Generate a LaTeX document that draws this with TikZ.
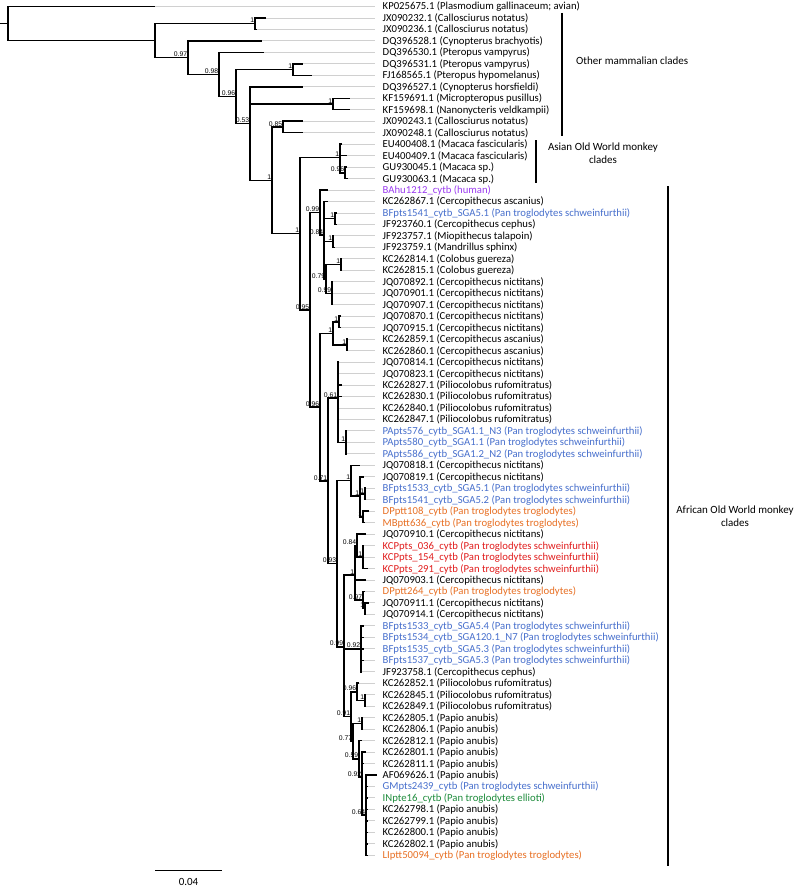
\documentclass[tikz,border=0pt]{standalone}
\usepackage{fontspec}
\setmainfont{Carlito}
\newfontfamily\suppfont{Liberation Sans}
\usetikzlibrary{calc}
\definecolor{cpurple}{RGB}{155,60,240}
\definecolor{cblue}{RGB}{72,112,205}
\definecolor{corange}{RGB}{232,112,36}
\definecolor{cred}{RGB}{225,30,30}
\definecolor{cgreen}{RGB}{30,140,60}
\definecolor{lgrey}{RGB}{208,208,208}
\tikzset{
 br/.style={line width=1.5pt, black},
 leafline/.style={line width=0.9pt, draw=lgrey},
 lab/.style={anchor=west, inner xsep=7.5pt, inner ysep=0pt, text height=7.5pt, text depth=0.5pt, font=\fontsize{10.7}{12}\selectfont},
 suplab/.style={anchor=south east, inner sep=0.6pt, font=\suppfont\fontsize{6.8}{7.5}\selectfont},
 clade/.style={line width=1.6pt, black},
 cladetext/.style={font=\fontsize{11}{13}\selectfont, align=center, inner sep=0pt}
}
\newcommand\myleaf[4]{%
 \coordinate (L#1) at (#2,{6.5+11.47*#1});
 \node[lab,text=#3] (T#1) at (375,{6.5+11.47*#1}) {#4};
 \draw[leafline] (L#1) -- (T#1.west);
}
\newcommand\ndtwo[4]{\path let \p1=(#3),\p2=(#4) in coordinate (#1) at (#2pt,{(\y1+\y2)/2});}
\newcommand\ndthree[5]{\path let \p1=(#3),\p2=(#4),\p3=(#5) in coordinate (#1) at (#2pt,{(\y1+\y2+\y3)/3});}
\newcommand\ndfour[6]{\path let \p1=(#3),\p2=(#4),\p3=(#5),\p4=(#6) in coordinate (#1) at (#2pt,{(\y1+\y2+\y3+\y4)/4});}
\newcommand\edges[2]{\foreach \c in {#2} {\draw[br] (#1) |- (\c);}}
\newcommand\slab[2]{\node[suplab] (s#1) at (#1) {#2};}
\begin{document}
\begin{tikzpicture}[x=1pt,y=-1pt]
\fill[white] (0,0) rectangle (800,888);
\useasboundingbox (0,0) rectangle (800,888);
% leaves
\myleaf{0}{155}{black}{KP025675.1 (Plasmodium gallinaceum; avian)}
\myleaf{1}{266}{black}{JX090232.1 (Callosciurus notatus)}
\myleaf{2}{257}{black}{JX090236.1 (Callosciurus notatus)}
\myleaf{3}{262}{black}{DQ396528.1 (Cynopterus brachyotis)}
\myleaf{4}{264}{black}{DQ396530.1 (Pteropus vampyrus)}
\myleaf{5}{303}{black}{DQ396531.1 (Pteropus vampyrus)}
\myleaf{6}{312}{black}{FJ168565.1 (Pteropus hypomelanus)}
\myleaf{7}{303}{black}{DQ396527.1 (Cynopterus horsfieldi)}
\myleaf{8}{350}{black}{KF159691.1 (Micropteropus pusillus)}
\myleaf{9}{350}{black}{KF159698.1 (Nanonycteris veldkampii)}
\myleaf{10}{303}{black}{JX090243.1 (Callosciurus notatus)}
\myleaf{11}{303}{black}{JX090248.1 (Callosciurus notatus)}
\myleaf{12}{342}{black}{EU400408.1 (Macaca fascicularis)}
\myleaf{13}{347}{black}{EU400409.1 (Macaca fascicularis)}
\myleaf{14}{347}{black}{GU930045.1 (Macaca sp.)}
\myleaf{15}{348}{black}{GU930063.1 (Macaca sp.)}
\myleaf{16}{328}{cpurple}{BAhu1212\_cytb (human)}
\myleaf{17}{328}{black}{KC262867.1 (Cercopithecus ascanius)}
\myleaf{18}{337}{cblue}{BFpts1541\_cytb\_SGA5.1 (Pan troglodytes schweinfurthii)}
\myleaf{19}{337}{black}{JF923760.1 (Cercopithecus cephus)}
\myleaf{20}{334}{black}{JF923757.1 (Miopithecus talapoin)}
\myleaf{21}{335}{black}{JF923759.1 (Mandrillus sphinx)}
\myleaf{22}{342}{black}{KC262814.1 (Colobus guereza)}
\myleaf{23}{342}{black}{KC262815.1 (Colobus guereza)}
\myleaf{24}{333}{black}{JQ070892.1 (Cercopithecus nictitans)}
\myleaf{25}{333}{black}{JQ070901.1 (Cercopithecus nictitans)}
\myleaf{26}{333}{black}{JQ070907.1 (Cercopithecus nictitans)}
\myleaf{27}{341}{black}{JQ070870.1 (Cercopithecus nictitans)}
\myleaf{28}{341}{black}{JQ070915.1 (Cercopithecus nictitans)}
\myleaf{29}{348}{black}{KC262859.1 (Cercopithecus ascanius)}
\myleaf{30}{348}{black}{KC262860.1 (Cercopithecus ascanius)}
\myleaf{31}{339}{black}{JQ070814.1 (Cercopithecus nictitans)}
\myleaf{32}{339}{black}{JQ070823.1 (Cercopithecus nictitans)}
\myleaf{33}{342}{black}{KC262827.1 (Piliocolobus rufomitratus)}
\myleaf{34}{342}{black}{KC262830.1 (Piliocolobus rufomitratus)}
\myleaf{35}{339}{black}{KC262840.1 (Piliocolobus rufomitratus)}
\myleaf{36}{339}{black}{KC262847.1 (Piliocolobus rufomitratus)}
\myleaf{37}{347}{cblue}{PApts576\_cytb\_SGA1.1\_N3 (Pan troglodytes schweinfurthii)}
\myleaf{38}{347}{cblue}{PApts580\_cytb\_SGA1.1 (Pan troglodytes schweinfurthii)}
\myleaf{39}{347}{cblue}{PApts586\_cytb\_SGA1.2\_N2 (Pan troglodytes schweinfurthii)}
\myleaf{40}{360}{black}{JQ070818.1 (Cercopithecus nictitans)}
\myleaf{41}{364}{black}{JQ070819.1 (Cercopithecus nictitans)}
\myleaf{42}{366}{cblue}{BFpts1533\_cytb\_SGA5.1 (Pan troglodytes schweinfurthii)}
\myleaf{43}{366}{cblue}{BFpts1541\_cytb\_SGA5.2 (Pan troglodytes schweinfurthii)}
\myleaf{44}{369}{corange}{DPptt108\_cytb (Pan troglodytes troglodytes)}
\myleaf{45}{365}{corange}{MBptt636\_cytb (Pan troglodytes troglodytes)}
\myleaf{46}{366}{black}{JQ070910.1 (Cercopithecus nictitans)}
\myleaf{47}{364}{cred}{KCPpts\_036\_cytb (Pan troglodytes schweinfurthii)}
\myleaf{48}{364}{cred}{KCPpts\_154\_cytb (Pan troglodytes schweinfurthii)}
\myleaf{49}{368}{cred}{KCPpts\_291\_cytb (Pan troglodytes schweinfurthii)}
\myleaf{50}{366}{black}{JQ070903.1 (Cercopithecus nictitans)}
\myleaf{51}{365}{corange}{DPptt264\_cytb (Pan troglodytes troglodytes)}
\myleaf{52}{369}{black}{JQ070911.1 (Cercopithecus nictitans)}
\myleaf{53}{366}{black}{JQ070914.1 (Cercopithecus nictitans)}
\myleaf{54}{364}{cblue}{BFpts1533\_cytb\_SGA5.4 (Pan troglodytes schweinfurthii)}
\myleaf{55}{364}{cblue}{BFpts1534\_cytb\_SGA120.1\_N7 (Pan troglodytes schweinfurthii)}
\myleaf{56}{364}{cblue}{BFpts1535\_cytb\_SGA5.3 (Pan troglodytes schweinfurthii)}
\myleaf{57}{364}{cblue}{BFpts1537\_cytb\_SGA5.3 (Pan troglodytes schweinfurthii)}
\myleaf{58}{362}{black}{JF923758.1 (Cercopithecus cephus)}
\myleaf{59}{359}{black}{KC262852.1 (Piliocolobus rufomitratus)}
\myleaf{60}{366}{black}{KC262845.1 (Piliocolobus rufomitratus)}
\myleaf{61}{366}{black}{KC262849.1 (Piliocolobus rufomitratus)}
\myleaf{62}{363}{black}{KC262805.1 (Papio anubis)}
\myleaf{63}{363}{black}{KC262806.1 (Papio anubis)}
\myleaf{64}{362}{black}{KC262812.1 (Papio anubis)}
\myleaf{65}{366}{black}{KC262801.1 (Papio anubis)}
\myleaf{66}{364}{black}{KC262811.1 (Papio anubis)}
\myleaf{67}{377}{black}{AF069626.1 (Papio anubis)}
\myleaf{68}{368}{cblue}{GMpts2439\_cytb (Pan troglodytes schweinfurthii)}
\myleaf{69}{368}{cgreen}{INpte16\_cytb (Pan troglodytes ellioti)}
\myleaf{70}{368}{black}{KC262798.1 (Papio anubis)}
\myleaf{71}{368}{black}{KC262799.1 (Papio anubis)}
\myleaf{72}{368}{black}{KC262800.1 (Papio anubis)}
\myleaf{73}{368}{black}{KC262802.1 (Papio anubis)}
\myleaf{74}{368}{corange}{LIptt50094\_cytb (Pan troglodytes troglodytes)}
% internal nodes
\ndtwo{nJXa}{255}{L1}{L2}
\ndtwo{nE}{293}{L5}{L6}
\ndtwo{nG}{333}{L8}{L9}
\ndtwo{nI}{283}{L10}{L11}
\ndtwo{nKG}{345}{L14}{L15}
\ndthree{nK}{340}{L12}{L13}{nKG}
\ndtwo{nP}{335}{L18}{L19}
\ndtwo{nQ}{333}{L20}{L21}
\ndtwo{nSa}{341}{L22}{L23}
\ndtwo{nTa}{332}{L24}{L26}
\ndtwo{nR}{326}{nSa}{nTa}
\ndfour{nO}{324}{L17}{nP}{nQ}{nR}
\ndtwo{nN}{320}{L16}{nO}
\ndtwo{nT}{339}{L27}{L28}
\ndtwo{nU}{347}{L29}{L30}
\ndtwo{nS}{333}{nT}{nU}
\ndtwo{nX}{346}{L37}{L39}
\path let \p1=(L31),\p2=(L32),\p3=(L33),\p4=(L34),\p5=(L35),\p6=(L36),\p7=(nX) in coordinate (nW) at (338pt,{(\y1+\y2+\y3+\y4+\y5+\y6+\y7)/7});
\ndtwo{nBP}{365}{L42}{L43}
\ndtwo{nDM}{363}{L44}{L45}
\ndthree{nAA}{360}{L41}{nBP}{nDM}
\ndtwo{nZ}{351}{L40}{nAA}
\ndtwo{nKCP}{363}{L47}{L49}
\ndtwo{nAC}{357}{L46}{nKCP}
\ndtwo{nJP}{365}{L52}{L53}
\ndtwo{nAF}{363}{L51}{nJP}
\ndthree{nAD}{355}{nAC}{L50}{nAF}
\ndtwo{nAG}{361}{L54}{L58}
\ndtwo{nPP}{365}{L60}{L61}
\ndtwo{nAI}{357}{L59}{nPP}
\ndtwo{nQQ}{362}{L62}{L63}
\ndtwo{nAM}{366}{L67}{L74}
\ndthree{nAL}{362}{L65}{L66}{nAM}
\ndtwo{nAK}{359}{L64}{nAL}
\ndtwo{nAJ}{353}{nQQ}{nAK}
\ndtwo{nAE}{351}{nAI}{nAJ}
\ndthree{nAB}{344}{nAD}{nAG}{nAE}
\ndtwo{nY}{337}{nZ}{nAB}
\ndtwo{nV}{328}{nW}{nY}
\ndtwo{nM}{320}{nS}{nV}
\ndtwo{nL}{310}{nN}{nM}
\ndtwo{nJ}{300}{nK}{nL}
\ndtwo{nH}{272}{nI}{nJ}
\ndthree{nF}{250}{L7}{nG}{nH}
\ndtwo{nD}{236}{nE}{nF}
\ndtwo{nC}{219}{L4}{nD}
\ndtwo{nB}{188}{L3}{nC}
\ndtwo{nA}{155}{nJXa}{nB}
\ndtwo{nR0}{8}{L0}{nA}
\path let \p1=(nR0) in coordinate (nR0s) at (0pt,\y1);
% branches
\draw[br] (nR0s) -- (nR0);
\edges{nR0}{L0,nA}
\edges{nA}{nJXa,nB}
\edges{nJXa}{L1,L2}
\edges{nB}{L3,nC}
\edges{nC}{L4,nD}
\edges{nD}{nE,nF}
\edges{nE}{L5,L6}
\edges{nF}{L7,nG,nH}
\edges{nG}{L8,L9}
\edges{nH}{nI,nJ}
\edges{nI}{L10,L11}
\edges{nJ}{nK,nL}
\edges{nK}{L12,L13,nKG}
\edges{nKG}{L14,L15}
\edges{nL}{nN,nM}
\edges{nN}{L16,nO}
\edges{nO}{L17,nP,nQ,nR}
\edges{nP}{L18,L19}
\edges{nQ}{L20,L21}
\edges{nR}{nSa,nTa}
\edges{nSa}{L22,L23}
\edges{nTa}{L24,L25,L26}
\edges{nM}{nS,nV}
\edges{nS}{nT,nU}
\edges{nT}{L27,L28}
\edges{nU}{L29,L30}
\edges{nV}{nW,nY}
\edges{nW}{L31,L32,L33,L34,L35,L36,nX}
\edges{nX}{L37,L38,L39}
\edges{nY}{nZ,nAB}
\edges{nZ}{L40,nAA}
\edges{nAA}{L41,nBP,nDM}
\edges{nBP}{L42,L43}
\edges{nDM}{L44,L45}
\edges{nAB}{nAD,nAG,nAE}
\edges{nAD}{nAC,L50,nAF}
\edges{nAC}{L46,nKCP}
\edges{nKCP}{L47,L48,L49}
\edges{nAF}{L51,nJP}
\edges{nJP}{L52,L53}
\edges{nAG}{L54,L55,L56,L57,L58}
\edges{nAE}{nAI,nAJ}
\edges{nAI}{L59,nPP}
\edges{nPP}{L60,L61}
\edges{nAJ}{nQQ,nAK}
\edges{nQQ}{L62,L63}
\edges{nAK}{L64,nAL}
\edges{nAL}{L65,L66,nAM}
\edges{nAM}{L67,L68,L69,L70,L71,L72,L73,L74}
% support values
\slab{nJXa}{1}
\slab{nB}{0.97}
\slab{nC}{0.98}
\slab{nD}{0.96}
\slab{nE}{1}
\slab{nF}{0.53}
\slab{nG}{1}
\slab{nH}{1}
\slab{nI}{0.85}
\slab{nJ}{1}
\slab{nK}{1}
\slab{nKG}{0.96}
\slab{nL}{0.95}
\slab{nN}{0.99}
\slab{nO}{0.84}
\slab{nP}{1}
\slab{nQ}{1}
\slab{nR}{0.79}
\slab{nSa}{1}
\slab{nTa}{0.99}
\slab{nM}{0.96}
\slab{nS}{1}
\slab{nT}{1}
\slab{nU}{1}
\slab{nV}{0.71}
\slab{nW}{0.61}
\slab{nX}{1}
\slab{nY}{0.93}
\slab{nZ}{1}
\slab{nAA}{1}
\slab{nBP}{1}
\slab{nDM}{1}
\slab{nAB}{0.99}
\slab{nAD}{1}
\slab{nAC}{0.84}
\slab{nKCP}{1}
\slab{nAF}{0.97}
\slab{nJP}{1}
\slab{nAG}{0.92}
\slab{nAE}{0.91}
\slab{nAI}{0.96}
\slab{nPP}{1}
\slab{nAJ}{0.77}
\slab{nQQ}{1}
\slab{nAK}{0.59}
\slab{nAL}{0.92}
\slab{nAM}{0.64}
% clade bars and texts
\coordinate (ob1) at (562,13); \coordinate (ob2) at (562,136);
\draw[clade] (ob1) -- (ob2);
\node[cladetext, anchor=west] (otext) at (576,61) {Other mammalian clades};
\coordinate (ab1) at (536,140); \coordinate (ab2) at (536,183);
\draw[clade] (ab1) -- (ab2);
\node[cladetext] (atext) at (603,153) {Asian Old World monkey\\clades};
\coordinate (fb1) at (668,186); \coordinate (fb2) at (668,866);
\draw[clade] (fb1) -- (fb2);
\node[cladetext] (ftext) at (735,516) {African Old World monkey\\clades};
% scale bar
\coordinate (sb1) at (155,870); \coordinate (sb2) at (222,870);
\draw[line width=1pt] (sb1) -- (sb2);
\node[cladetext, anchor=base] (sbtext) at (188.5,885) {0.04};
\end{tikzpicture}
\end{document}
